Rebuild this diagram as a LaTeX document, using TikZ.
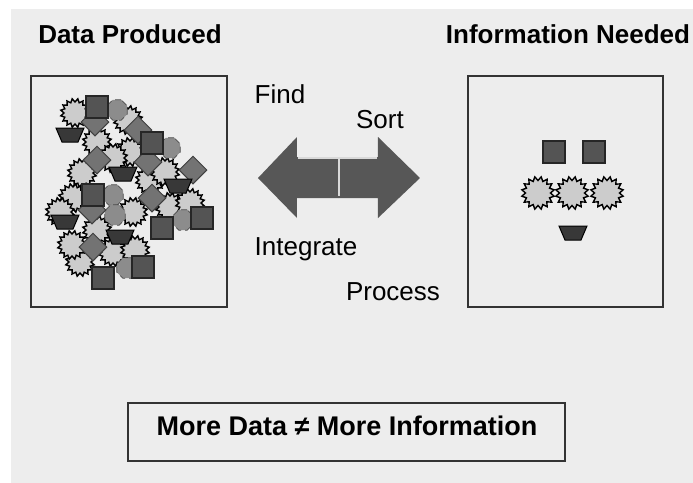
\documentclass[tikz,border=0pt]{standalone}
\usepackage{fontspec}
\setmainfont{Liberation Sans}
\usetikzlibrary{shapes.geometric}
\definecolor{bggray}{HTML}{EDEDED}
\definecolor{arrowgray}{HTML}{575757}
\begin{document}
\begin{tikzpicture}[x=0.5pt,y=-0.5pt,
  frame/.style={draw=black!80,line width=1pt,inner sep=0pt},
  title/.style={font=\fontsize{13}{15}\selectfont\bfseries,anchor=base},
  verb/.style={font=\fontsize{13}{15}\selectfont,anchor=base},
  sunball/.style={star,star points=16,star point ratio=0.76,minimum size=11pt,inner sep=0pt,draw=black,line width=0.7pt,fill=black!20},
  octo/.style={regular polygon,regular polygon sides=8,minimum size=11pt,inner sep=0pt,draw=black!70,densely dashed,line width=0.4pt,fill=black!45},
  sqbox/.style={rectangle,minimum size=11pt,inner sep=0pt,draw=black!85,line width=0.6pt,fill=black!67},
  gem/.style={diamond,minimum size=14pt,inner sep=0pt,draw=black!75,line width=0.5pt,fill=black!55},
  pics/bucket/.style={code={
    \filldraw[draw=black,line width=0.5pt,fill=black!78] (-14,-7) -- (14,-7) -- (8,7) -- (-8,7) -- cycle;}}]
\useasboundingbox (0,0) rectangle (693,483);
\fill[bggray] (11,9) rectangle (693,483);

% titles and frames
\node[title] (ttlproduced) at (130,43) {Data Produced};
\node[title] (ttlneeded) at (568,43) {Information Needed};
\node[frame,minimum width=98pt,minimum height=115.5pt] (produced) at (129,191.5) {};
\node[frame,minimum width=97.5pt,minimum height=115.5pt] (needed) at (565.5,191.5) {};

% the heap of data
\foreach \x/\y [count=\i] in {75/113,97/142,130/152,113/158,82/173,150/180,73/198,60/212,133/212,170/207,190/203,
  97/230,113/252,80/262,135/250,72/245,128/120,165/172}
  \node[sunball] (lsun\i) at (\x,\y) {};
\foreach \x/\y [count=\i] in {117/110,170/148,113/195,183/220,127/268,115/215}
  \node[octo] (loct\i) at (\x,\y) {};
\foreach \x/\y [count=\i] in {95/122,138/130,97/160,148/162,193/170,152/198,92/210,93/247}
  \node[gem] (lgem\i) at (\x,\y) {};
\foreach \x/\y [count=\i] in {97/107,152/143,93/195,162/228,202/218,143/267,103/278}
  \node[sqbox] (lsq\i) at (\x,\y) {};
\foreach \x/\y [count=\i] in {70/135,123/174,178/186,65/222,120/237}
  \pic (lbkt\i) at (\x,\y) {bucket};

% the information kept
\node[sqbox] (rsq1) at (554,152) {};
\node[sqbox] (rsq2) at (594,152) {};
\foreach \x [count=\i] in {538,572,607}
  \node[sunball,minimum size=12.5pt] (rsun\i) at (\x,193) {};
\pic (rbkt) at (573,233) {bucket};

% double arrow
\fill[arrowgray] (339,157) -- (297,157) -- (297,137) -- (258,178) -- (297,218) -- (297,198) -- (339,198) -- cycle;
\fill[arrowgray] (339,157) -- (378,157) -- (378,137) -- (420,178) -- (378,218) -- (378,198) -- (339,198) -- cycle;
\draw[black!15,line width=0.6pt] (298,158) -- (377,158) (339,158) -- (339,196);

\node[verb] (find) at (280,103) {Find};
\node[verb] (sort) at (380,128) {Sort};
\node[verb] (integrate) at (306,255) {Integrate};
\node[verb] (process) at (393,300) {Process};

% the lesson
\node[frame,minimum width=218.5pt,minimum height=29pt] (lesson) at (346.5,432) {};
\node[title,font=\fontsize{13.5}{16}\selectfont\bfseries] (lessontxt) at (347,435) {More Data ≠ More Information};
\end{tikzpicture}
\end{document}
